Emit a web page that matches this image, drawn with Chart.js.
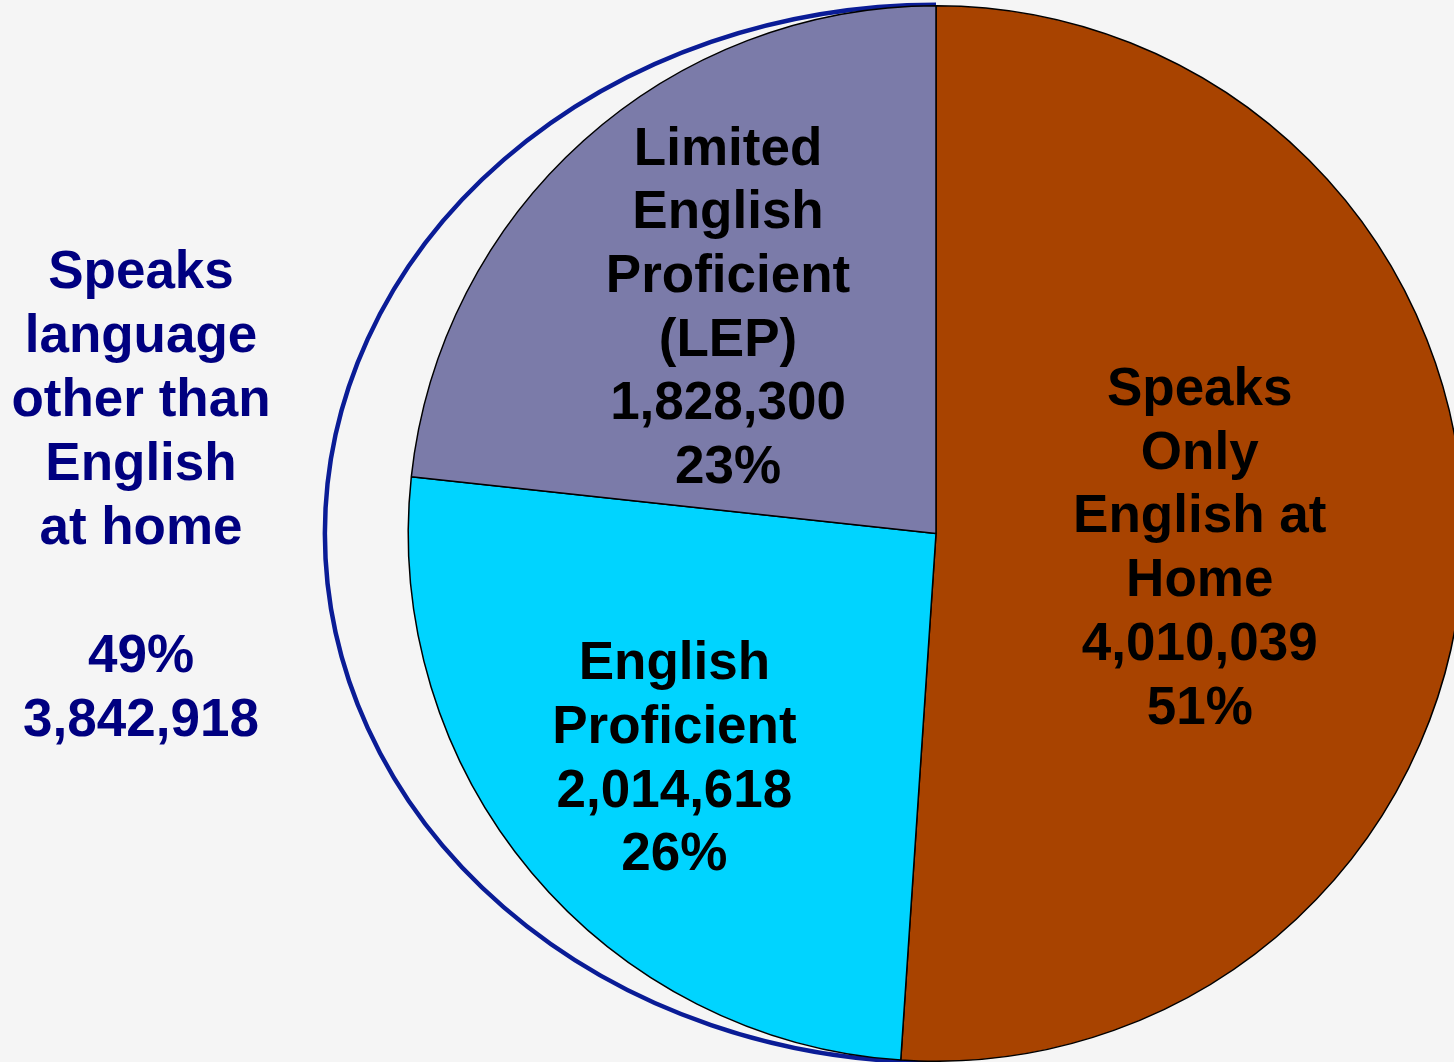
<!DOCTYPE html>
<html>
<head>
<meta charset="utf-8">
<script src="https://cdn.jsdelivr.net/npm/chart.js@4.4.1/dist/chart.umd.min.js"></script>
<style>
  html, body { margin: 0; padding: 0; background: #f5f5f5; overflow: hidden; }
  #myChart { display: block; }
</style>
</head>
<body>
<canvas id="myChart" width="1466" height="1062"></canvas>
<script>
// data
var categories = [
    ['Speaks', 'Only', 'English at', 'Home'],
    ['English', 'Proficient'],
    ['Limited', 'English', 'Proficient', '(LEP)']
];
var speakers = [4010039, 2014618, 1828300];
var sliceColors = ['#a84300', '#00d4ff', '#7b7ba9'];
var otherLabel = ['Speaks', 'language', 'other than', 'English', 'at home'];

var total = speakers.reduce(function(a, b){ return a + b; }, 0);
var otherTotal = speakers[1] + speakers[2];

function fmt(n){ return n.toLocaleString('en-US'); }
function pct(n){ return Math.round(n / total * 100) + '%'; }

var FONT = 'bold 53px "Liberation Sans", Arial, sans-serif';
var LINE = 63.7;
var CAP = 19;

function drawBlock(ctx, lines, x, cy){
    var first = cy - (lines.length - 1) * LINE / 2 + CAP;
    lines.forEach(function(t, i){
        ctx.fillText(t, x, first + i * LINE);
    });
}

/* contour du groupe "autre langue" */
var outlinePlugin = {
    id: 'outline',
    beforeDatasetsDraw: function(chart){
        var arc = chart.getDatasetMeta(0).data[0];
        var ctx = chart.ctx;
        ctx.save();
        ctx.beginPath();
        ctx.ellipse(arc.x, arc.y, arc.outerRadius * 1.158, arc.outerRadius + 1, 0, Math.PI / 2, Math.PI * 1.5);
        ctx.lineWidth = 4.5;
        ctx.strokeStyle = '#0a1c96';
        ctx.stroke();
        ctx.restore();
    }
};

/* textes dans les parts + texte a gauche */
var radialPos = [0.50, 0.647, 0.59];
var labelPlugin = {
    id: 'sliceLabels',
    afterDatasetsDraw: function(chart){
        var ctx = chart.ctx;
        var arcs = chart.getDatasetMeta(0).data;
        ctx.save();
        ctx.font = FONT;
        ctx.textAlign = 'center';
        ctx.textBaseline = 'alphabetic';
        ctx.fillStyle = '#000';
        arcs.forEach(function(arc, i){
            var mid = (arc.startAngle + arc.endAngle) / 2;
            var r = arc.outerRadius * radialPos[i];
            var lines = categories[i].concat([fmt(speakers[i]), pct(speakers[i])]);
            drawBlock(ctx, lines, arc.x + Math.cos(mid) * r, arc.y + Math.sin(mid) * r + 3);
        });

        ctx.fillStyle = '#000080';
        var left = otherLabel.concat(['', pct(otherTotal), fmt(otherTotal)]);
        left.forEach(function(t, i){
            ctx.fillText(t, 141, 288 + i * 64);
        });
        ctx.restore();
    }
};

var ctx = document.getElementById('myChart').getContext('2d');
var myChart = new Chart(ctx, {
    type: 'pie',
    data: {
        labels: categories.map(function(c){ return c.join(' '); }),
        datasets: [{
            data: speakers,
            backgroundColor: sliceColors,
            borderColor: '#000',
            borderWidth: 1.5,
            hoverOffset: 0
        }]
    },
    options: {
        responsive: false,
        animation: false,
        layout: { padding: { left: 406, right: 0, top: 5, bottom: 0 } },
        plugins: {
            legend: { display: false },
            tooltip: { enabled: false }
        }
    },
    plugins: [outlinePlugin, labelPlugin]
});
</script>
</body>
</html>
